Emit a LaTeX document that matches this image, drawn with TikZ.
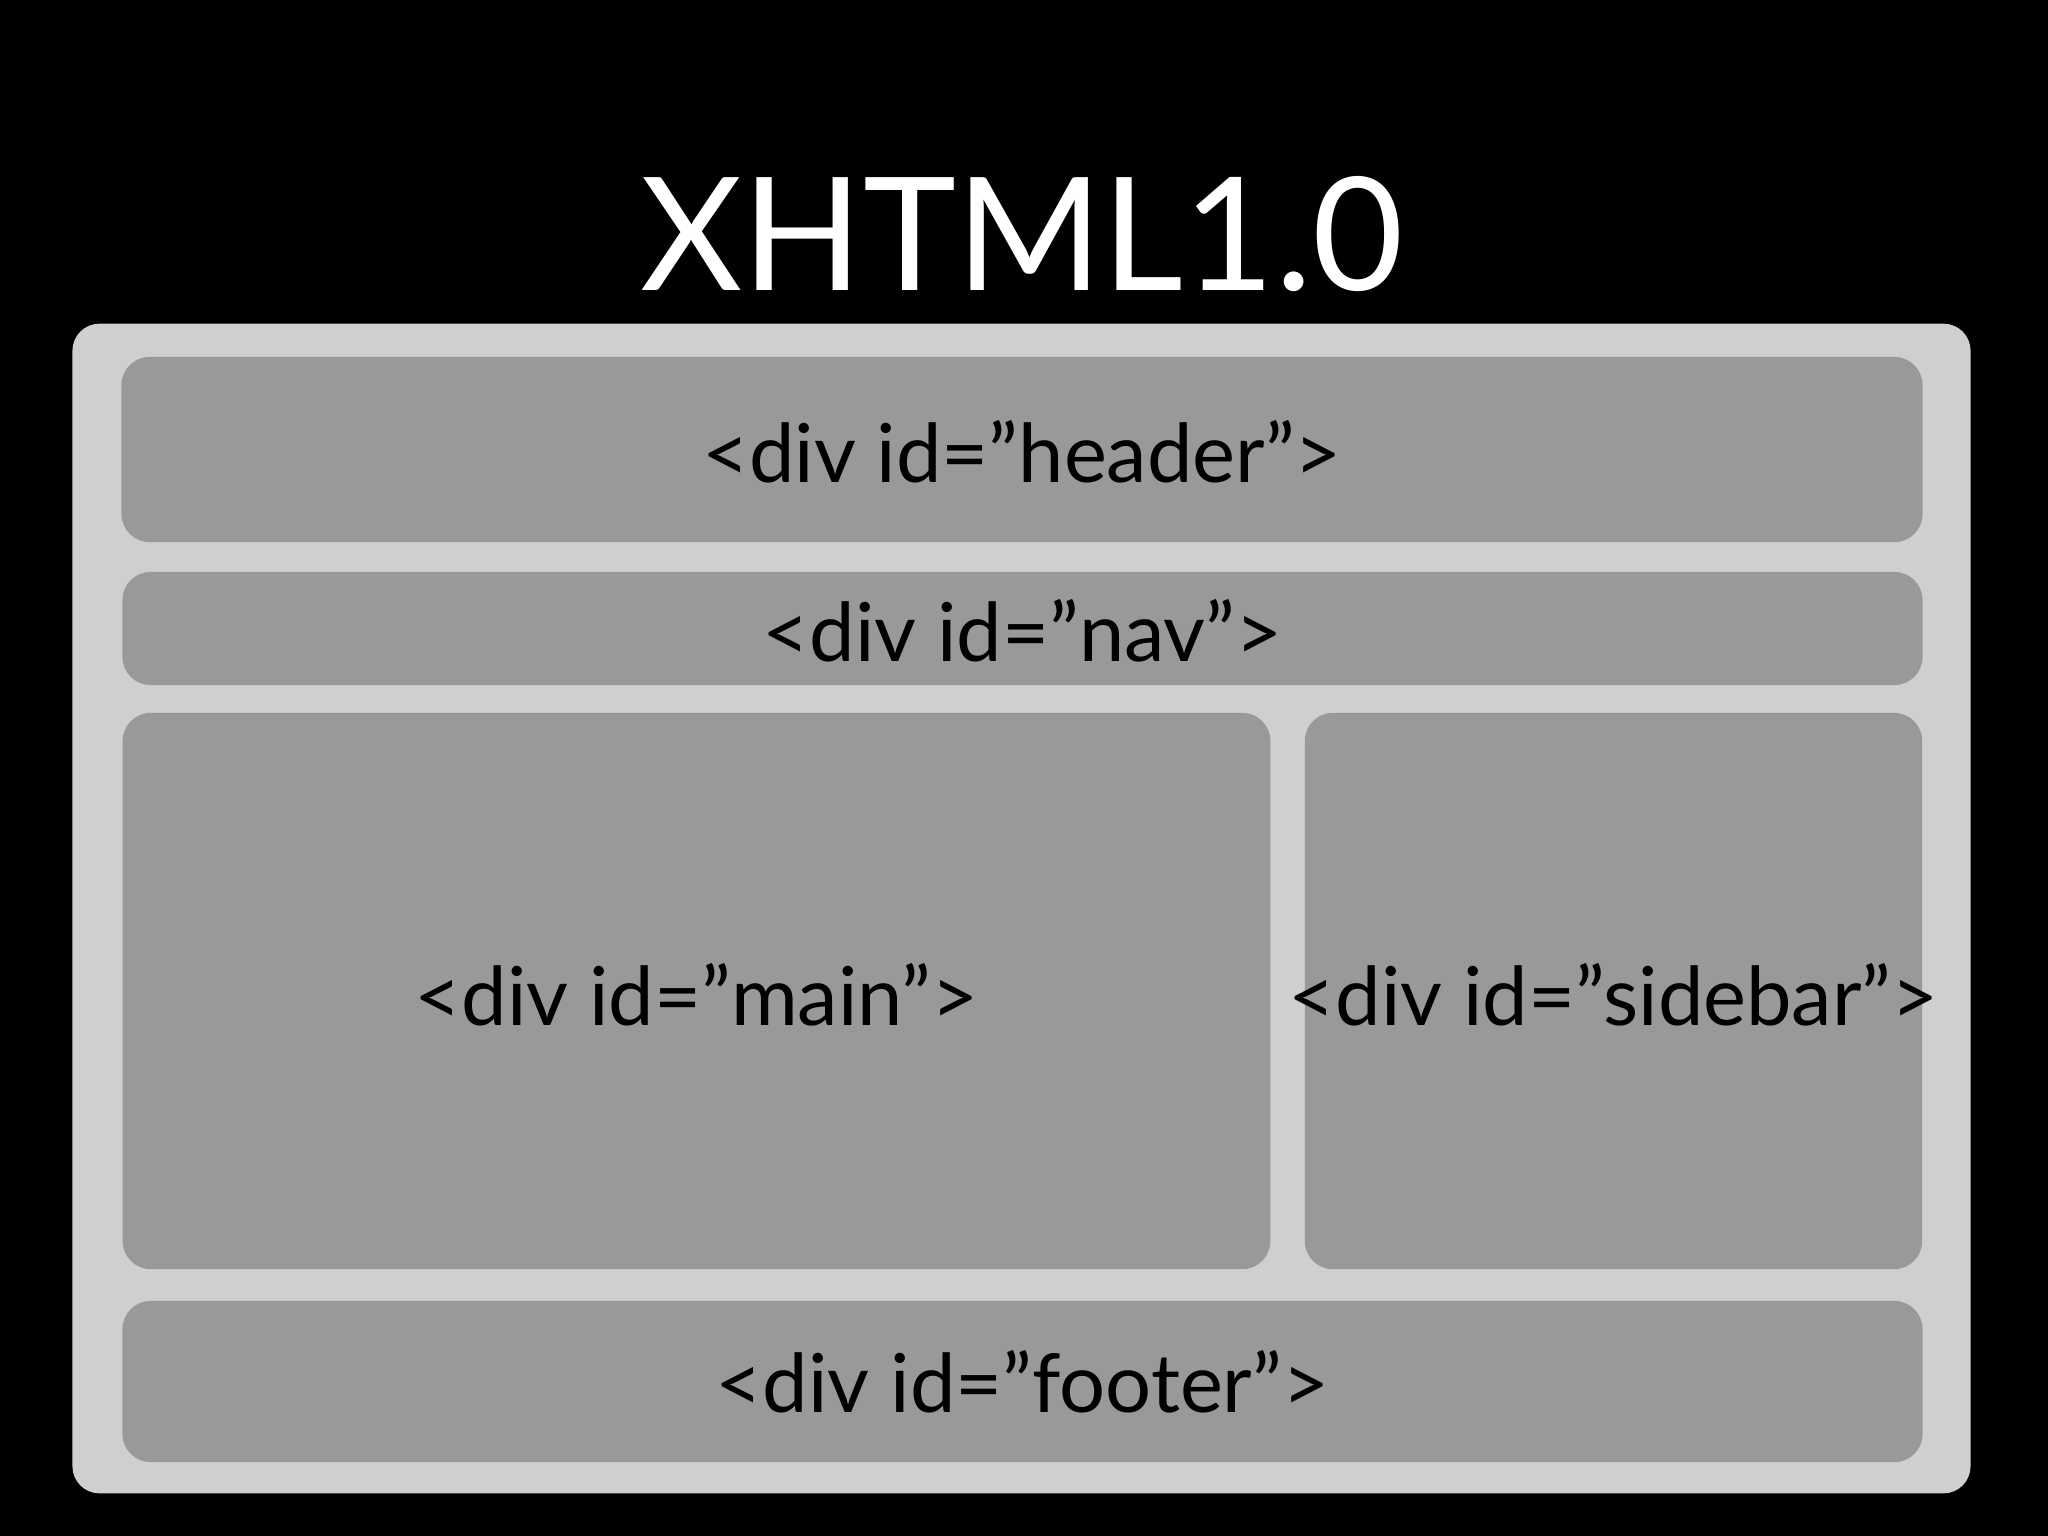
\documentclass[tikz,border=0pt]{standalone}
\usepackage{fontspec}
\setmainfont{Lato}
\definecolor{outergray}{HTML}{CFCFCF}
\definecolor{innergray}{HTML}{999999}
\tikzset{
  pagebox/.style={fill=outergray, draw=none, rounded corners=0.27cm, inner sep=0pt},
  divbox/.style={fill=innergray, draw=none, rounded corners=0.28cm, inner sep=0pt},
  lbl/.style={font=\fontsize{23.1}{27}\selectfont, text=black, inner sep=0pt, anchor=center},
  titletext/.style={font=\fontsize{44.8}{52}\selectfont, text=white, inner sep=0pt, anchor=center}
}
\begin{document}
\begin{tikzpicture}[x=0.01cm, y=-0.01cm]
\fill[black] (0,0) rectangle (2048,1536);
\useasboundingbox (0,0) rectangle (2048,1536);
\node[titletext] (title) at (1022,234) {XHTML1.0};
\node[pagebox, minimum width=18.97cm, minimum height=11.69cm] (page) at (1021.5,908.5) {};
\node[divbox, minimum width=18.00cm, minimum height=1.85cm] (header) at (1022,449.5) {};
\node[divbox, minimum width=17.99cm, minimum height=1.13cm] (nav) at (1022.5,628.5) {};
\node[divbox, minimum width=11.47cm, minimum height=5.56cm] (main) at (696.5,991) {};
\node[divbox, minimum width=6.17cm, minimum height=5.56cm] (sidebar) at (1613.5,991) {};
\node[divbox, minimum width=17.99cm, minimum height=1.61cm] (footer) at (1022.5,1381.5) {};
\node[lbl] (headerlbl) at ([yshift=-0.02cm]header.center) {<div id=”header”>};
\node[lbl] (navlbl) at ([yshift=-0.02cm]nav.center) {<div id=”nav”>};
\node[lbl] (mainlbl) at ([yshift=-0.04cm]main.center) {<div id=”main”>};
\node[lbl] (sidebarlbl) at ([yshift=-0.04cm]sidebar.center) {<div id=”sidebar”>};
\node[lbl] (footerlbl) at (footer.center) {<div id=”footer”>};
\end{tikzpicture}
\end{document}
